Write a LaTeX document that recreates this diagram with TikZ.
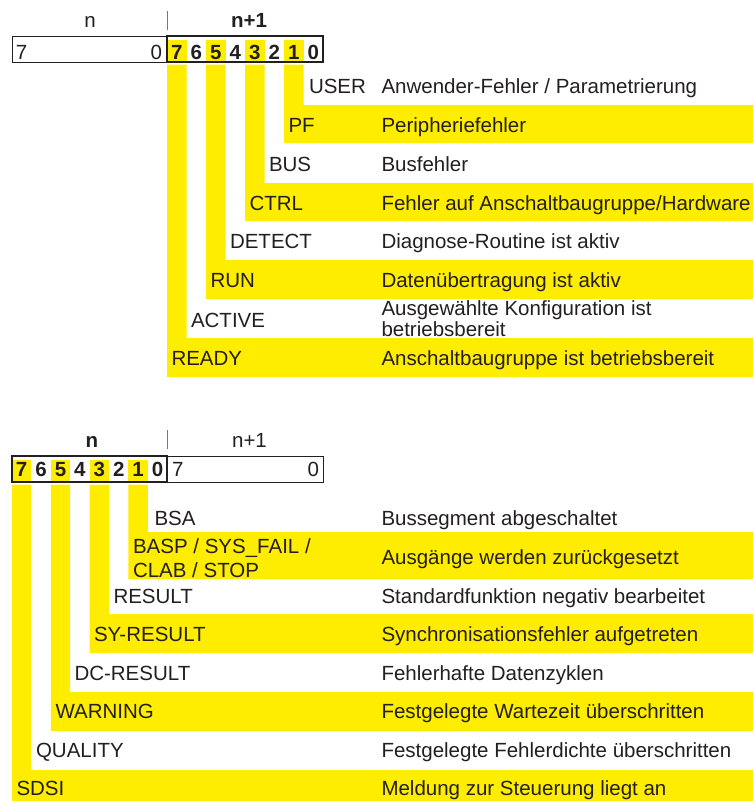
\documentclass[tikz,border=0pt]{standalone}
\usepackage{fontspec}
\setmainfont{Liberation Sans}
\definecolor{signal}{RGB}{255,237,0}
\definecolor{ink}{RGB}{35,31,32}
\definecolor{rule}{RGB}{120,120,120}
\begin{document}
\begin{tikzpicture}[x=1pt,y=-1pt,
  every node/.style={inner sep=0pt,outer sep=0pt,text=ink,font=\fontsize{20.5}{20.5}\selectfont},
  txt/.style={anchor=base west},
  bitnum/.style={anchor=base,font=\fontsize{20.5}{20.5}\selectfont\bfseries},
  boldlbl/.style={anchor=base,font=\fontsize{20.5}{20.5}\selectfont\bfseries},
  plainlbl/.style={anchor=base},
  thinbox/.style={draw=ink,line width=0.9pt},
  thickbox/.style={draw=ink,line width=2pt},
  sep/.style={draw=rule,line width=0.9pt}]
\useasboundingbox (0,0) rectangle (753,801);

% ---------- status word, byte n+1 ----------
% yellow bit paths (bits 1,3,5,7)
\fill[signal] (284,64.5) -- (303.5,64.5) -- (303.5,105) -- (753,105) -- (753,143) -- (284,143) -- cycle;
\fill[signal] (245,64.5) -- (264.5,64.5) -- (264.5,183) -- (753,183) -- (753,221) -- (245,221) -- cycle;
\fill[signal] (206,64.5) -- (225.5,64.5) -- (225.5,260) -- (753,260) -- (753,299) -- (206,299) -- cycle;
\fill[signal] (167,64.5) -- (186.5,64.5) -- (186.5,338) -- (753,338) -- (753,377) -- (167,377) -- cycle;
\foreach \c in {167,206,245,284}
  \fill[signal] (\c,39.5) rectangle ++(19.5,22.5);

\draw[sep] (167,11) -- (167,30);
\node[plainlbl] (tn)  at (90,27)  {n};
\node[boldlbl]  (tn1) at (249,27) {n+1};

\draw[thinbox]  (12,36) rectangle (167,62);
\draw[thickbox] (167,36) rectangle (323,62);
\node[anchor=base west] (tlo7) at (16,59) {7};
\node[anchor=base east] (tlo0) at (162,59) {0};
\foreach \b [count=\i from 0] in {7,6,5,4,3,2,1,0}
  \node[bitnum] (tb\b) at ({176.75+19.5*\i},59) {\b};

\node[txt] (user)   at (309,93)  {USER};
\node[txt] (pf)     at (288.5,132) {PF};
\node[txt] (bus)    at (269,171) {BUS};
\node[txt] (ctrl)   at (249.5,210) {CTRL};
\node[txt] (detect) at (230,248.5) {DETECT};
\node[txt] (run)    at (210.5,287) {RUN};
\node[txt] (active) at (191,327) {ACTIVE};
\node[txt] (ready)  at (171.5,365) {READY};

\node[txt] (duser)   at (381.5,93)  {Anwender-Fehler / Parametrierung};
\node[txt] (dpf)     at (381.5,132) {Peripheriefehler};
\node[txt] (dbus)    at (381.5,171) {Busfehler};
\node[txt] (dctrl)   at (381.5,210) {Fehler auf Anschaltbaugruppe/Hardware};
\node[txt] (ddetect) at (381.5,248.5) {Diagnose-Routine ist aktiv};
\node[txt] (drun)    at (381.5,287) {Datenübertragung ist aktiv};
\node[txt] (dactivea) at (381.5,315) {Ausgewählte Konfiguration ist};
\node[txt] (dactiveb) at (381.5,336) {betriebsbereit};
\node[txt] (dready)  at (381.5,365) {Anschaltbaugruppe ist betriebsbereit};

% ---------- status word, byte n ----------
\fill[signal] (128.4,484.5) -- (147.8,484.5) -- (147.8,532) -- (753,532) -- (753,579) -- (128.4,579) -- cycle;
\fill[signal] (89.6,484.5) -- (109,484.5) -- (109,614) -- (753,614) -- (753,653) -- (89.6,653) -- cycle;
\fill[signal] (50.8,484.5) -- (70.2,484.5) -- (70.2,692) -- (753,692) -- (753,731) -- (50.8,731) -- cycle;
\fill[signal] (12,484.5) -- (31.4,484.5) -- (31.4,770) -- (753,770) -- (753,801) -- (12,801) -- cycle;
\foreach \c in {12,50.8,89.6,128.4}
  \fill[signal] (\c,459.5) rectangle ++(19.4,22.5);

\draw[sep] (167,430) -- (167,449);
\node[boldlbl]  (bn)  at (92,447)  {n};
\node[plainlbl] (bn1) at (249.5,447) {n+1};

\draw[thickbox] (12,456) rectangle (167,482);
\draw[thinbox]  (167,456) rectangle (323,482);
\node[anchor=base west] (bhi7) at (172,476) {7};
\node[anchor=base east] (bhi0) at (319,476) {0};
\foreach \b [count=\i from 0] in {7,6,5,4,3,2,1,0}
  \node[bitnum] (bb\b) at ({21.7+19.4*\i},476) {\b};

\node[txt] (bsa)    at (154.5,525) {BSA};
\node[txt] (baspa)  at (133,553) {BASP / SYS\_FAIL /};
\node[txt] (baspb)  at (133,577) {CLAB / STOP};
\node[txt] (result) at (113.5,603) {RESULT};
\node[txt] (syres)  at (94,641)  {SY-RESULT};
\node[txt] (dcres)  at (74.5,680) {DC-RESULT};
\node[txt] (warn)   at (55.5,718) {WARNING};
\node[txt] (qual)   at (36,757)  {QUALITY};
\node[txt] (sdsi)   at (16.5,795) {SDSI};

\node[txt] (dbsa)    at (381.5,525) {Bussegment abgeschaltet};
\node[txt] (dbasp)   at (381.5,564) {Ausgänge werden zurückgesetzt};
\node[txt] (dresult) at (381.5,603) {Standardfunktion negativ bearbeitet};
\node[txt] (dsyres)  at (381.5,641) {Synchronisationsfehler aufgetreten};
\node[txt] (ddcres)  at (381.5,680) {Fehlerhafte Datenzyklen};
\node[txt] (dwarn)   at (381.5,718) {Festgelegte Wartezeit überschritten};
\node[txt] (dqual)   at (381.5,757) {Festgelegte Fehlerdichte überschritten};
\node[txt] (dsdsi)   at (381.5,795) {Meldung zur Steuerung liegt an};
\end{tikzpicture}
\end{document}
